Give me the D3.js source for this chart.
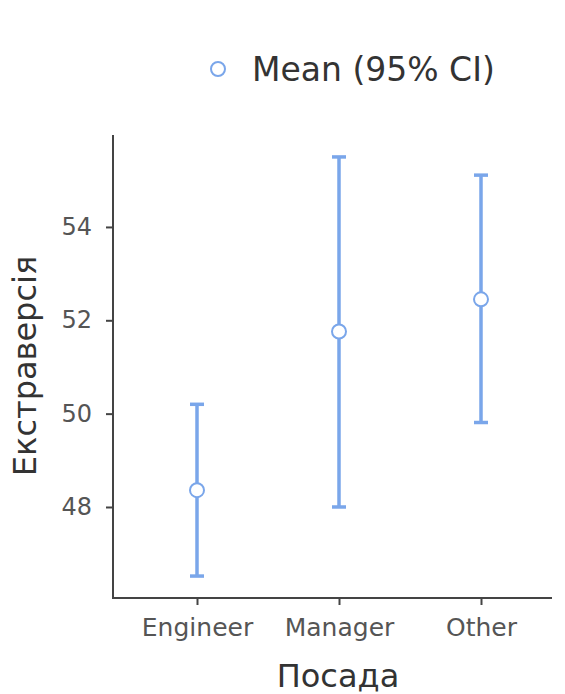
<!DOCTYPE html>
<html lang="en">
<head>
<meta charset="UTF-8">
<title>Екстраверсія by Посада</title>
<style>
    body { margin: 0; background: #fff; }
    svg text { font-family: "DejaVu Sans", sans-serif; }
</style>
</head>
<body>
<div id="chart"></div>
<script src="https://cdn.jsdelivr.net/npm/d3@7"></script>
<script>
// data
const categories = ['Engineer', 'Manager', 'Other']
const means = [48.36, 51.76, 52.45]
const lower = [46.52, 48.0, 49.81]
const upper = [50.2, 55.5, 55.11]
const yTicks = [48, 50, 52, 54]

const w = 565, h = 694
const blue = '#7aa6ea'

const svg = d3.select('#chart').append('svg')
    .attr('width', w)
    .attr('height', h)

// plot area
const pLeft = 113, pRight = 552, pTop = 135, pBottom = 598

const x = d3.scalePoint()
    .domain(categories)
    .range([197, 481])

const y = d3.scaleLinear()
    .domain([46.05, 55.97])
    .range([pBottom, pTop])

// spines
svg.append('path')
    .attr('d', `M${pLeft},${pTop}V${pBottom}H${pRight}`)
    .attr('fill', 'none')
    .attr('stroke', '#444')
    .attr('stroke-width', 2)

// y axis
const yAxis = svg.append('g')
    .attr('transform', `translate(${pLeft},0)`)
    .call(d3.axisLeft(y).tickValues(yTicks).tickSize(7).tickPadding(14))
yAxis.select('.domain').remove()
yAxis.selectAll('line').attr('stroke', '#444').attr('stroke-width', 2)
yAxis.selectAll('text').attr('font-size', 24).attr('fill', '#555')

// x axis
const xAxis = svg.append('g')
    .attr('transform', `translate(0,${pBottom})`)
    .call(d3.axisBottom(x).tickSize(7).tickPadding(13))
xAxis.select('.domain').remove()
xAxis.selectAll('line').attr('stroke', '#444').attr('stroke-width', 2)
xAxis.selectAll('text').attr('font-size', 25).attr('fill', '#555')

// axis titles
svg.append('text')
    .attr('x', 338)
    .attr('y', 687)
    .attr('text-anchor', 'middle')
    .attr('font-size', 32)
    .attr('fill', '#333')
    .text('Посада')

svg.append('text')
    .attr('transform', `translate(36,366) rotate(-90)`)
    .attr('text-anchor', 'middle')
    .attr('font-size', 32)
    .attr('fill', '#333')
    .text('Екстраверсія')

// error bars
const rows = categories.map((c, i) => ({c, m: means[i], lo: lower[i], hi: upper[i]}))
const bars = svg.append('g').selectAll('g').data(rows).join('g')

bars.append('line')
    .attr('x1', d => x(d.c)).attr('x2', d => x(d.c))
    .attr('y1', d => y(d.lo)).attr('y2', d => y(d.hi))
    .attr('stroke', blue).attr('stroke-width', 3.5)

bars.selectAll('.cap')
    .data(d => [d.lo, d.hi].map(v => ({c: d.c, v})))
    .join('line')
    .attr('class', 'cap')
    .attr('x1', d => x(d.c) - 7).attr('x2', d => x(d.c) + 7)
    .attr('y1', d => y(d.v)).attr('y2', d => y(d.v))
    .attr('stroke', blue).attr('stroke-width', 3.5)

bars.append('circle')
    .attr('cx', d => x(d.c))
    .attr('cy', d => y(d.m))
    .attr('r', 7)
    .attr('fill', '#fff')
    .attr('stroke', blue)
    .attr('stroke-width', 2)

// legend
const legend = svg.append('g')
legend.append('circle')
    .attr('cx', 218).attr('cy', 69).attr('r', 7)
    .attr('fill', '#fff').attr('stroke', blue).attr('stroke-width', 2)
legend.append('text')
    .attr('x', 252).attr('y', 81)
    .attr('font-size', 33)
    .attr('fill', '#333')
    .text('Mean (95% CI)')
</script>
</body>
</html>
